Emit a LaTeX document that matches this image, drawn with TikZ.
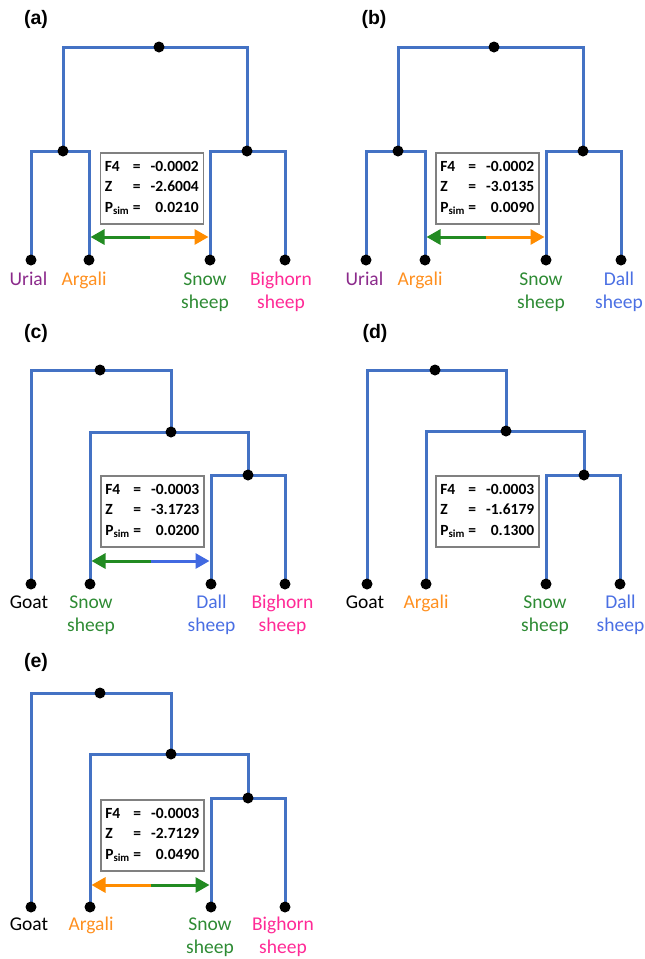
\documentclass[tikz,border=0pt]{standalone}
\usepackage{fontspec}
\setmainfont{Carlito}
\newfontfamily\titlefont{Liberation Sans}
\usetikzlibrary{arrows.meta,backgrounds,calc}
\definecolor{treeblue}{HTML}{4472C4}
\definecolor{boxgray}{HTML}{808080}
\definecolor{curial}{HTML}{8B2A8B}
\definecolor{cargali}{HTML}{FF9020}
\definecolor{csnow}{HTML}{2E8B34}
\definecolor{cbighorn}{HTML}{FF2A96}
\definecolor{cdall}{HTML}{4A6FE3}
\definecolor{agreen}{HTML}{228B22}
\definecolor{aorange}{HTML}{FF8C00}
\definecolor{ablue}{HTML}{4169E1}
\newcommand\statlines[3]{%
\makebox[26pt][l]{F4}\makebox[12pt]{=}\makebox[56pt][r]{#1}\\
\makebox[26pt][l]{Z}\makebox[12pt]{=}\makebox[56pt][r]{#2}\\
\makebox[26pt][l]{P\textsubscript{sim}}\makebox[12pt]{=}\makebox[56pt][r]{#3}}
\begin{document}
\begin{tikzpicture}[x=1pt,y=-1pt,
  dot/.style={circle,fill=black,inner sep=0pt,minimum size=11pt},
  branch/.style={draw=treeblue,line width=3pt},
  taxon/.style={anchor=base,align=center,inner sep=0pt,font=\fontsize{19.5}{23.3}\selectfont},
  taxontwo/.style={taxon,yshift=-23.3pt},
  statbox/.style={draw=boxgray,line width=1.5pt,fill=white,anchor=north west,minimum width=103pt,minimum height=71pt,inner sep=0pt,align=left,font=\fontsize{15.5}{20.3}\selectfont\bfseries},
  paneltitle/.style={font=\titlefont\bfseries\fontsize{19.5}{24}\selectfont},
  gene/.style={line width=3pt,shorten >=1.5pt,-{Triangle[length=14pt,width=15pt]}}]
\path[use as bounding box] (0,0) rectangle (645,959);

% ---------- (a)
\node[paneltitle] (ta) at (36,19) {(a)};
\node[dot] (a0) at (159,47) {};
\node[dot] (a1) at (63,151) {};
\node[dot] (a2) at (247,151) {};
\node[dot] (aU) at (31,260) {};
\node[dot] (aA) at (89,260) {};
\node[dot] (aS) at (210,260) {};
\node[dot] (aB) at (285,260) {};
\begin{pgfonlayer}{background}
\draw[branch] (a1.center) |- (a0.center) -| (a2.center);
\draw[branch] (aU.center) |- (a1.center) -| (aA.center);
\draw[branch] (aS.center) |- (a2.center) -| (aB.center);
\end{pgfonlayer}
\node[statbox] (aF) at (99.5,152) {\statlines{-0.0002}{-2.6004}{0.0210}};
\coordinate (aAx) at (89,237); \coordinate (aSx) at (210,237);
\coordinate (aM) at ($(aAx)!0.5!(aSx)$);
\draw[gene,draw=agreen] (aM) -- (aAx);
\draw[gene,draw=aorange] (aM) -- (aSx);
\node[taxon,text=curial] (aUl) at (28.5,285.5) {Urial};
\node[taxon,text=cargali] (aAl) at (84,285.5) {Argali};
\node[taxontwo,text=csnow] (aSl) at (205,285.5) {Snow\\sheep};
\node[taxontwo,text=cbighorn] (aBl) at (281,285.5) {Bighorn\\sheep};

% ---------- (b)
\node[paneltitle] (tb) at (374,19) {(b)};
\node[dot] (b0) at (494,47) {};
\node[dot] (b1) at (398,151) {};
\node[dot] (b2) at (583,151) {};
\node[dot] (bU) at (366,260) {};
\node[dot] (bA) at (425,260) {};
\node[dot] (bS) at (546,260) {};
\node[dot] (bD) at (621,260) {};
\begin{pgfonlayer}{background}
\draw[branch] (b1.center) |- (b0.center) -| (b2.center);
\draw[branch] (bU.center) |- (b1.center) -| (bA.center);
\draw[branch] (bS.center) |- (b2.center) -| (bD.center);
\end{pgfonlayer}
\node[statbox] (bF) at (435,152) {\statlines{-0.0002}{-3.0135}{0.0090}};
\coordinate (bAx) at (425,237); \coordinate (bSx) at (546,237);
\coordinate (bM) at ($(bAx)!0.5!(bSx)$);
\draw[gene,draw=agreen] (bM) -- (bAx);
\draw[gene,draw=aorange] (bM) -- (bSx);
\node[taxon,text=curial] (bUl) at (364.5,285.5) {Urial};
\node[taxon,text=cargali] (bAl) at (420,285.5) {Argali};
\node[taxontwo,text=csnow] (bSl) at (541,285.5) {Snow\\sheep};
\node[taxontwo,text=cdall] (bDl) at (619,285.5) {Dall\\sheep};

% ---------- (c)
\node[paneltitle] (tc) at (36,333) {(c)};
\node[dot] (c0) at (100,370) {};
\node[dot] (c1) at (171,432) {};
\node[dot] (c2) at (248,475) {};
\node[dot] (cG) at (31,584) {};
\node[dot] (cS) at (90,584) {};
\node[dot] (cD) at (211,584) {};
\node[dot] (cB) at (285,584) {};
\begin{pgfonlayer}{background}
\draw[branch] (cG.center) |- (c0.center) -| (c1.center);
\draw[branch] (cS.center) |- (c1.center) -| (c2.center);
\draw[branch] (cD.center) |- (c2.center) -| (cB.center);
\end{pgfonlayer}
\node[statbox] (cF) at (100,475) {\statlines{-0.0003}{-3.1723}{0.0200}};
\coordinate (cSx) at (90,561); \coordinate (cDx) at (211,561);
\coordinate (cM) at ($(cSx)!0.5!(cDx)$);
\draw[gene,draw=agreen] (cM) -- (cSx);
\draw[gene,draw=ablue] (cM) -- (cDx);
\node[taxon] (cGl) at (29,608) {Goat};
\node[taxontwo,text=csnow] (cSl) at (91,608) {Snow\\sheep};
\node[taxontwo,text=cdall] (cDl) at (211.5,608) {Dall\\sheep};
\node[taxontwo,text=cbighorn] (cBl) at (282.5,608) {Bighorn\\sheep};

% ---------- (d)
\node[paneltitle] (td) at (375,333) {(d)};
\node[dot] (d0) at (435,370) {};
\node[dot] (d1) at (506,431) {};
\node[dot] (d2) at (584,475) {};
\node[dot] (dG) at (367,584) {};
\node[dot] (dA) at (426,584) {};
\node[dot] (dS) at (546,584) {};
\node[dot] (dD) at (620,584) {};
\begin{pgfonlayer}{background}
\draw[branch] (dG.center) |- (d0.center) -| (d1.center);
\draw[branch] (dA.center) |- (d1.center) -| (d2.center);
\draw[branch] (dS.center) |- (d2.center) -| (dD.center);
\end{pgfonlayer}
\node[statbox] (dF) at (435,475) {\statlines{-0.0003}{-1.6179}{0.1300}};
\node[taxon] (dGl) at (365,608) {Goat};
\node[taxon,text=cargali] (dAl) at (426,608) {Argali};
\node[taxontwo,text=csnow] (dSl) at (545,608) {Snow\\sheep};
\node[taxontwo,text=cdall] (dDl) at (620.5,608) {Dall\\sheep};

% ---------- (e)
\node[paneltitle] (te) at (36,662) {(e)};
\node[dot] (e0) at (100,693) {};
\node[dot] (e1) at (171,754) {};
\node[dot] (e2) at (248,798) {};
\node[dot] (eG) at (31,907) {};
\node[dot] (eA) at (90,907) {};
\node[dot] (eS) at (211,907) {};
\node[dot] (eB) at (285,907) {};
\begin{pgfonlayer}{background}
\draw[branch] (eG.center) |- (e0.center) -| (e1.center);
\draw[branch] (eA.center) |- (e1.center) -| (e2.center);
\draw[branch] (eS.center) |- (e2.center) -| (eB.center);
\end{pgfonlayer}
\node[statbox] (eF) at (100,799) {\statlines{-0.0003}{-2.7129}{0.0490}};
\coordinate (eAx) at (90,885); \coordinate (eSx) at (211,885);
\coordinate (eM) at ($(eAx)!0.5!(eSx)$);
\draw[gene,draw=aorange] (eM) -- (eAx);
\draw[gene,draw=agreen] (eM) -- (eSx);
\node[taxon] (eGl) at (29,930) {Goat};
\node[taxon,text=cargali] (eAl) at (91,930) {Argali};
\node[taxontwo,text=csnow] (eSl) at (210,930) {Snow\\sheep};
\node[taxontwo,text=cbighorn] (eBl) at (283,930) {Bighorn\\sheep};
\end{tikzpicture}
\end{document}
